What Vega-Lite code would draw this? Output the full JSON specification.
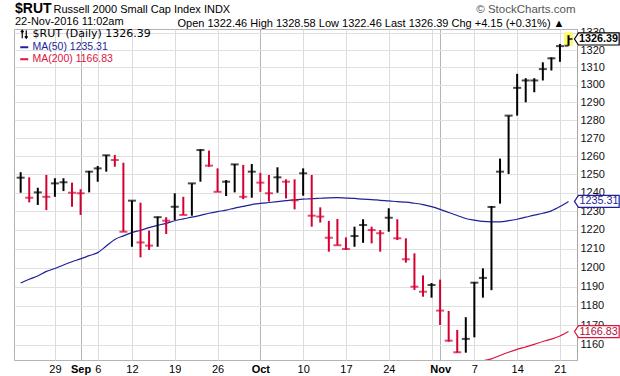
{
  "$schema": "https://vega.github.io/schema/vega-lite/v6.json",
  "width": 563,
  "height": 331,
  "autosize": {"type": "none"},
  "padding": {"left": 14, "top": 29, "right": 43, "bottom": 16},
  "background": "white",
  "config": {
    "view": {"stroke": "#b4b4b4", "strokeWidth": 1},
    "font": "Liberation Sans",
    "axis": {"labelFont": "Liberation Sans", "titleFont": "Liberation Sans"}
  },
  "title": {
    "text": "$RUT",
    "subtitle": "22-Nov-2016 11:02am",
    "anchor": "start",
    "frame": "group",
    "font": "Liberation Sans",
    "fontSize": 14,
    "fontWeight": "bold",
    "color": "#000000",
    "subtitleFont": "Liberation Sans",
    "subtitleFontSize": 11,
    "subtitleColor": "#000000",
    "subtitlePadding": 0,
    "offset": -23,
    "dx": 1
  },
  "data": {
    "values": [
      {"d": "2016-08-23", "o": 1248.2, "h": 1251.2, "l": 1240.0, "c": 1248.2, "ma50": 1191.9},
      {"d": "2016-08-24", "o": 1237.3, "h": 1248.4, "l": 1234.8, "c": 1237.3, "ma50": 1193.9},
      {"d": "2016-08-25", "o": 1240.2, "h": 1242.7, "l": 1233.4, "c": 1240.2, "ma50": 1195.6},
      {"d": "2016-08-26", "o": 1237.8, "h": 1249.7, "l": 1230.6, "c": 1237.8, "ma50": 1198.0},
      {"d": "2016-08-29", "o": 1245.1, "h": 1247.9, "l": 1237.8, "c": 1245.1, "ma50": 1199.5},
      {"d": "2016-08-30", "o": 1245.7, "h": 1247.9, "l": 1240.9, "c": 1245.7, "ma50": 1201.4},
      {"d": "2016-08-31", "o": 1240.0, "h": 1245.5, "l": 1232.4, "c": 1240.0, "ma50": 1203.1},
      {"d": "2016-09-01", "o": 1239.7, "h": 1241.9, "l": 1228.0, "c": 1239.7, "ma50": 1204.6},
      {"d": "2016-09-02", "o": 1251.5, "h": 1251.9, "l": 1240.2, "c": 1251.5, "ma50": 1206.3},
      {"d": "2016-09-06", "o": 1253.3, "h": 1254.6, "l": 1246.0, "c": 1253.3, "ma50": 1207.9},
      {"d": "2016-09-07", "o": 1260.5, "h": 1260.7, "l": 1251.5, "c": 1260.5, "ma50": 1211.4},
      {"d": "2016-09-08", "o": 1257.9, "h": 1260.7, "l": 1254.2, "c": 1257.9, "ma50": 1214.9},
      {"d": "2016-09-09", "o": 1219.0, "h": 1256.4, "l": 1219.0, "c": 1219.0, "ma50": 1216.8},
      {"d": "2016-09-12", "o": 1235.7, "h": 1235.7, "l": 1211.0, "c": 1235.7, "ma50": 1218.5},
      {"d": "2016-09-13", "o": 1213.3, "h": 1234.6, "l": 1205.4, "c": 1213.3, "ma50": 1219.8},
      {"d": "2016-09-14", "o": 1211.6, "h": 1219.6, "l": 1209.3, "c": 1211.6, "ma50": 1221.2},
      {"d": "2016-09-15", "o": 1226.8, "h": 1227.1, "l": 1211.0, "c": 1226.8, "ma50": 1222.4},
      {"d": "2016-09-16", "o": 1224.9, "h": 1226.8, "l": 1217.8, "c": 1224.9, "ma50": 1223.5},
      {"d": "2016-09-19", "o": 1232.4, "h": 1239.7, "l": 1225.3, "c": 1232.4, "ma50": 1224.9},
      {"d": "2016-09-20", "o": 1228.0, "h": 1237.8, "l": 1228.0, "c": 1228.0, "ma50": 1225.9},
      {"d": "2016-09-21", "o": 1245.1, "h": 1245.1, "l": 1227.6, "c": 1245.1, "ma50": 1226.8},
      {"d": "2016-09-22", "o": 1263.4, "h": 1263.8, "l": 1246.0, "c": 1263.4, "ma50": 1227.8},
      {"d": "2016-09-23", "o": 1254.8, "h": 1263.1, "l": 1254.2, "c": 1254.8, "ma50": 1228.9},
      {"d": "2016-09-26", "o": 1240.5, "h": 1253.3, "l": 1240.5, "c": 1240.5, "ma50": 1229.8},
      {"d": "2016-09-27", "o": 1246.0, "h": 1246.9, "l": 1238.2, "c": 1246.0, "ma50": 1230.6},
      {"d": "2016-09-28", "o": 1255.5, "h": 1255.7, "l": 1240.2, "c": 1255.5, "ma50": 1231.7},
      {"d": "2016-09-29", "o": 1237.8, "h": 1255.2, "l": 1236.5, "c": 1237.8, "ma50": 1232.6},
      {"d": "2016-09-30", "o": 1251.5, "h": 1255.7, "l": 1237.3, "c": 1251.5, "ma50": 1233.6},
      {"d": "2016-10-03", "o": 1245.5, "h": 1250.9, "l": 1240.5, "c": 1245.5, "ma50": 1234.2},
      {"d": "2016-10-04", "o": 1239.7, "h": 1249.7, "l": 1235.2, "c": 1239.7, "ma50": 1234.7},
      {"d": "2016-10-05", "o": 1248.4, "h": 1253.9, "l": 1240.0, "c": 1248.4, "ma50": 1235.2},
      {"d": "2016-10-06", "o": 1246.0, "h": 1247.3, "l": 1236.9, "c": 1246.0, "ma50": 1235.7},
      {"d": "2016-10-07", "o": 1235.9, "h": 1247.3, "l": 1231.0, "c": 1235.9, "ma50": 1236.2},
      {"d": "2016-10-10", "o": 1250.6, "h": 1253.3, "l": 1238.4, "c": 1250.6, "ma50": 1236.5},
      {"d": "2016-10-11", "o": 1227.6, "h": 1249.7, "l": 1221.7, "c": 1227.6, "ma50": 1236.8},
      {"d": "2016-10-12", "o": 1227.1, "h": 1232.1, "l": 1223.9, "c": 1227.1, "ma50": 1237.0},
      {"d": "2016-10-13", "o": 1215.8, "h": 1224.8, "l": 1208.4, "c": 1215.8, "ma50": 1237.2},
      {"d": "2016-10-14", "o": 1211.8, "h": 1225.8, "l": 1211.8, "c": 1211.8, "ma50": 1237.3},
      {"d": "2016-10-17", "o": 1209.8, "h": 1216.0, "l": 1209.3, "c": 1209.8, "ma50": 1237.1},
      {"d": "2016-10-18", "o": 1216.7, "h": 1221.7, "l": 1211.0, "c": 1216.7, "ma50": 1236.9},
      {"d": "2016-10-19", "o": 1222.6, "h": 1225.7, "l": 1213.1, "c": 1222.6, "ma50": 1236.5},
      {"d": "2016-10-20", "o": 1219.9, "h": 1221.7, "l": 1212.8, "c": 1219.9, "ma50": 1236.3},
      {"d": "2016-10-21", "o": 1218.2, "h": 1219.9, "l": 1208.4, "c": 1218.2, "ma50": 1235.9},
      {"d": "2016-10-24", "o": 1226.5, "h": 1231.6, "l": 1219.0, "c": 1226.5, "ma50": 1235.6},
      {"d": "2016-10-25", "o": 1215.5, "h": 1225.7, "l": 1214.6, "c": 1215.5, "ma50": 1235.2},
      {"d": "2016-10-26", "o": 1204.4, "h": 1215.5, "l": 1202.6, "c": 1204.4, "ma50": 1234.9},
      {"d": "2016-10-27", "o": 1190.0, "h": 1207.5, "l": 1188.3, "c": 1190.0, "ma50": 1234.3},
      {"d": "2016-10-28", "o": 1187.4, "h": 1195.9, "l": 1184.8, "c": 1187.4, "ma50": 1233.6},
      {"d": "2016-10-31", "o": 1190.9, "h": 1191.9, "l": 1184.3, "c": 1190.9, "ma50": 1232.5},
      {"d": "2016-11-01", "o": 1177.6, "h": 1193.7, "l": 1170.2, "c": 1177.6, "ma50": 1231.0},
      {"d": "2016-11-02", "o": 1162.2, "h": 1177.4, "l": 1161.7, "c": 1162.2, "ma50": 1229.3},
      {"d": "2016-11-03", "o": 1156.3, "h": 1167.7, "l": 1156.1, "c": 1156.3, "ma50": 1227.7},
      {"d": "2016-11-04", "o": 1163.1, "h": 1174.2, "l": 1156.1, "c": 1163.1, "ma50": 1226.1},
      {"d": "2016-11-07", "o": 1192.1, "h": 1192.4, "l": 1163.9, "c": 1192.1, "ma50": 1225.2},
      {"d": "2016-11-08", "o": 1194.6, "h": 1199.6, "l": 1184.3, "c": 1194.6, "ma50": 1224.5, "ma200": 1152.0},
      {"d": "2016-11-09", "o": 1232.3, "h": 1232.8, "l": 1188.2, "c": 1232.3, "ma50": 1224.3, "ma200": 1153.0},
      {"d": "2016-11-10", "o": 1251.5, "h": 1258.7, "l": 1234.1, "c": 1251.5, "ma50": 1224.3, "ma200": 1154.7},
      {"d": "2016-11-11", "o": 1282.6, "h": 1282.6, "l": 1250.2, "c": 1282.6, "ma50": 1224.9, "ma200": 1156.3},
      {"d": "2016-11-14", "o": 1298.3, "h": 1306.3, "l": 1282.6, "c": 1298.3, "ma50": 1225.7, "ma200": 1157.8},
      {"d": "2016-11-15", "o": 1302.5, "h": 1303.8, "l": 1290.1, "c": 1302.5, "ma50": 1226.8, "ma200": 1159.0},
      {"d": "2016-11-16", "o": 1302.5, "h": 1303.8, "l": 1295.8, "c": 1302.5, "ma50": 1227.9, "ma200": 1160.3},
      {"d": "2016-11-17", "o": 1309.0, "h": 1312.9, "l": 1302.5, "c": 1309.0, "ma50": 1228.9, "ma200": 1161.8},
      {"d": "2016-11-18", "o": 1315.2, "h": 1315.8, "l": 1308.2, "c": 1315.2, "ma50": 1230.2, "ma200": 1163.0},
      {"d": "2016-11-21", "o": 1322.24, "h": 1323.5, "l": 1313.2, "c": 1322.24, "ma50": 1232.5, "ma200": 1164.6},
      {"d": "2016-11-22", "o": 1322.46, "h": 1328.58, "l": 1322.46, "c": 1326.39, "ma50": 1235.31, "ma200": 1166.83}
    ]
  },
  "transform": [
    {"window": [{"op": "lag", "field": "c", "as": "pc"}], "sort": [{"field": "d", "order": "ascending"}]}
  ],
  "resolve": {"axis": {"x": "independent", "y": "independent"}},
  "layer": [
    {
      "transform": [{"filter": "datum.d == '2016-11-22'"}],
      "mark": {"type": "bar", "color": "#fbfb70", "size": 9, "yOffset": -3},
      "encoding": {
        "x": {"field": "d", "type": "ordinal", "scale": {"type": "point", "padding": 0.885, "align": 0.44}, "axis": null},
        "y": {"field": "h", "type": "quantitative", "scale": {"type": "log", "domain": [1152.4, 1332.2], "nice": false}, "axis": null},
        "y2": {"field": "l"}
      }
    },
    {
      "transform": [
        {"fold": ["ma50", "ma200"], "as": ["series", "v"]},
        {"filter": "isValid(datum.v)"}
      ],
      "mark": {"type": "line", "strokeWidth": 1.2, "clip": true, "interpolate": "monotone"},
      "encoding": {
        "x": {
          "field": "d", "type": "ordinal",
          "scale": {"type": "point", "padding": 0.885, "align": 0.44},
          "axis": {
            "orient": "top", "labels": false, "ticks": false, "domain": false, "grid": false,
            "title": "Open 1322.46  High 1328.58  Low 1322.46  Last 1326.39  Chg +4.15 (+0.31%) ▲",
            "titleX": 163, "titleY": -3, "titleAlign": "left", "titleBaseline": "alphabetic",
            "titleFontSize": 11, "titleFontWeight": "normal", "titleColor": "#000000"
          }
        },
        "y": {
          "field": "v", "type": "quantitative",
          "scale": {"type": "log", "domain": [1152.4, 1332.2], "nice": false},
          "axis": {
            "orient": "left", "labels": false, "ticks": false, "domain": false, "grid": false,
            "title": "Russell 2000 Small Cap Index   INDX",
            "titleAngle": 0, "titleX": 39, "titleY": -16.3, "titleAlign": "left", "titleBaseline": "alphabetic",
            "titleFontSize": 11, "titleFontWeight": "normal", "titleColor": "#000000"
          }
        },
        "color": {
          "field": "series", "type": "nominal",
          "scale": {"domain": ["rut", "ma50", "ma200"], "range": ["#000000", "#1f1f99", "#dc143c"]},
          "legend": {
            "title": null,
            "orient": "none", "legendX": 5, "legendY": 0,
            "padding": 0, "rowPadding": 1, "labelOffset": 3,
            "symbolType": "stroke", "symbolSize": 64, "symbolStrokeWidth": 2,
            "labelFont": "Liberation Sans", "labelFontSize": 10.5,
            "labelExpr": "datum.value == 'rut' ? '$RUT (Daily) 1326.39' : datum.value == 'ma50' ? 'MA(50) 1235.31' : 'MA(200) 1166.83'",
            "encode": {
              "symbols": {"update": {
                "shape": {"signal": "datum.value == 'rut' ? 'M-0.5,1V-1M-0.85,-0.55L-0.5,-1L-0.15,-0.55M0.5,-1V1M0.15,0.55L0.5,1L0.85,0.55' : 'stroke'"},
                "strokeWidth": {"signal": "datum.value == 'rut' ? 1.2 : 2"}
              }},
              "labels": {"update": {
                "fill": {"signal": "datum.value == 'ma50' ? '#1f1f99' : datum.value == 'ma200' ? '#dc143c' : '#000000'"},
                "font": {"signal": "datum.value == 'rut' ? 'DejaVu Sans' : 'Liberation Sans'"},
                "fontSize": {"signal": "datum.value == 'rut' ? 11 : 10.5"}
              }}
            }
          }
        }
      }
    },
    {
      "mark": {"type": "rule", "strokeWidth": 2},
      "encoding": {
        "x": {
          "field": "d", "type": "ordinal",
          "scale": {"type": "point", "padding": 0.885, "align": 0.44},
          "axis": {
            "orient": "bottom", "title": null,
            "values": ["2016-08-29", "2016-09-01", "2016-09-06", "2016-09-12", "2016-09-19", "2016-09-26", "2016-10-03", "2016-10-10", "2016-10-17", "2016-10-24", "2016-10-31", "2016-11-01", "2016-11-07", "2016-11-14", "2016-11-21"],
            "labelExpr": "datum.value == '2016-09-01' ? 'Sep' : datum.value == '2016-10-03' ? 'Oct' : datum.value == '2016-11-01' ? 'Nov' : datum.value == '2016-10-31' ? '' : '' + toNumber(substring(datum.value, 8, 10))",
            "labelAngle": 0, "labelFontSize": 11, "labelColor": "#000000", "labelPadding": 3, "labelOverlap": false,
            "labelFontWeight": {"condition": {"test": "datum.value == '2016-09-01' || datum.value == '2016-10-03' || datum.value == '2016-11-01'", "value": "bold"}, "value": "normal"},
            "ticks": false, "domain": false,
            "grid": true,
            "gridColor": {"condition": {"test": "datum.value == '2016-09-01' || datum.value == '2016-10-03' || datum.value == '2016-11-01'", "value": "#b4b4b4"}, "value": "#dcdcdc"},
            "gridWidth": 1
          }
        },
        "y": {
          "field": "h", "type": "quantitative",
          "scale": {"type": "log", "domain": [1152.4, 1332.2], "nice": false},
          "axis": {
            "orient": "right",
            "values": [1160, 1170, 1180, 1190, 1200, 1210, 1220, 1230, 1240, 1250, 1260, 1270, 1280, 1290, 1300, 1310, 1320, 1330],
            "format": "d", "labelFontSize": 11, "labelColor": "#111111", "labelPadding": 3, "labelFlush": false,
            "ticks": false, "domain": true, "domainColor": "#999999", "domainDash": [1, 1],
            "grid": true, "gridColor": "#e0e0e0", "gridWidth": 1,
            "title": "© StockCharts.com",
            "titleAngle": 0, "titleX": -2, "titleY": -16.3, "titleAlign": "right", "titleBaseline": "alphabetic",
            "titleFontSize": 11.5, "titleFontWeight": "normal", "titleColor": "#555555"
          }
        },
        "y2": {"field": "l"},
        "color": {"condition": {"test": "datum.pc == null || datum.c >= datum.pc", "value": "#000000"}, "value": "#d40032"}
      }
    },
    {
      "mark": {"type": "tick", "orient": "horizontal", "size": 4, "thickness": 2, "xOffset": -2},
      "encoding": {
        "x": {"field": "d", "type": "ordinal", "scale": {"type": "point", "padding": 0.885, "align": 0.44}, "axis": null},
        "y": {"field": "o", "type": "quantitative", "scale": {"type": "log", "domain": [1152.4, 1332.2], "nice": false}, "axis": null},
        "color": {"condition": {"test": "datum.pc == null || datum.c >= datum.pc", "value": "#000000"}, "value": "#d40032"}
      }
    },
    {
      "mark": {"type": "tick", "orient": "horizontal", "size": 4, "thickness": 2, "xOffset": 2},
      "encoding": {
        "x": {"field": "d", "type": "ordinal", "scale": {"type": "point", "padding": 0.885, "align": 0.44}, "axis": null},
        "y": {"field": "c", "type": "quantitative", "scale": {"type": "log", "domain": [1152.4, 1332.2], "nice": false}, "axis": null},
        "color": {"condition": {"test": "datum.pc == null || datum.c >= datum.pc", "value": "#000000"}, "value": "#d40032"}
      }
    },
    {
      "transform": [{"filter": "datum.d == '2016-11-22'"}],
      "mark": {"type": "point", "shape": "M-1,0L-0.82,-0.27L1,-0.27L1,0.27L-0.82,0.27Z", "size": 1998, "filled": true, "fill": "#ffffff", "stroke": "#000000", "strokeWidth": 1.2, "opacity": 1, "xOffset": 28.3},
      "encoding": {
        "x": {"field": "d", "type": "ordinal", "scale": {"type": "point", "padding": 0.885, "align": 0.44}, "axis": null},
        "y": {"field": "c", "type": "quantitative", "scale": {"type": "log", "domain": [1152.4, 1332.2], "nice": false}, "axis": null}
      }
    },
    {
      "transform": [{"filter": "datum.d == '2016-11-22'"}],
      "mark": {"type": "text", "align": "left", "baseline": "middle", "dx": 10.5, "font": "Liberation Sans", "fontSize": 10.8, "fontWeight": "bold", "color": "#000000"},
      "encoding": {
        "x": {"field": "d", "type": "ordinal", "scale": {"type": "point", "padding": 0.885, "align": 0.44}, "axis": null},
        "y": {"field": "c", "type": "quantitative", "scale": {"type": "log", "domain": [1152.4, 1332.2], "nice": false}, "axis": null},
        "text": {"field": "c", "type": "quantitative", "format": ".2f"}
      }
    },
    {
      "transform": [{"filter": "datum.d == '2016-11-22'"}],
      "mark": {"type": "point", "shape": "M-1,0L-0.82,-0.27L1,-0.27L1,0.27L-0.82,0.27Z", "size": 1998, "filled": true, "fill": "#ffffff", "stroke": "#1f1f99", "strokeWidth": 1.2, "opacity": 1, "xOffset": 28.3},
      "encoding": {
        "x": {"field": "d", "type": "ordinal", "scale": {"type": "point", "padding": 0.885, "align": 0.44}, "axis": null},
        "y": {"field": "ma50", "type": "quantitative", "scale": {"type": "log", "domain": [1152.4, 1332.2], "nice": false}, "axis": null}
      }
    },
    {
      "transform": [{"filter": "datum.d == '2016-11-22'"}],
      "mark": {"type": "text", "align": "left", "baseline": "middle", "dx": 11, "font": "Liberation Sans", "fontSize": 10.8, "color": "#1f1f99"},
      "encoding": {
        "x": {"field": "d", "type": "ordinal", "scale": {"type": "point", "padding": 0.885, "align": 0.44}, "axis": null},
        "y": {"field": "ma50", "type": "quantitative", "scale": {"type": "log", "domain": [1152.4, 1332.2], "nice": false}, "axis": null},
        "text": {"field": "ma50", "type": "quantitative", "format": ".2f"}
      }
    },
    {
      "transform": [{"filter": "datum.d == '2016-11-22'"}],
      "mark": {"type": "point", "shape": "M-1,0L-0.82,-0.27L1,-0.27L1,0.27L-0.82,0.27Z", "size": 1998, "filled": true, "fill": "#ffffff", "stroke": "#dc143c", "strokeWidth": 1.2, "opacity": 1, "xOffset": 28.3},
      "encoding": {
        "x": {"field": "d", "type": "ordinal", "scale": {"type": "point", "padding": 0.885, "align": 0.44}, "axis": null},
        "y": {"field": "ma200", "type": "quantitative", "scale": {"type": "log", "domain": [1152.4, 1332.2], "nice": false}, "axis": null}
      }
    },
    {
      "transform": [{"filter": "datum.d == '2016-11-22'"}],
      "mark": {"type": "text", "align": "left", "baseline": "middle", "dx": 11, "font": "Liberation Sans", "fontSize": 10.8, "color": "#b0103a"},
      "encoding": {
        "x": {"field": "d", "type": "ordinal", "scale": {"type": "point", "padding": 0.885, "align": 0.44}, "axis": null},
        "y": {"field": "ma200", "type": "quantitative", "scale": {"type": "log", "domain": [1152.4, 1332.2], "nice": false}, "axis": null},
        "text": {"field": "ma200", "type": "quantitative", "format": ".2f"}
      }
    }
  ]
}
